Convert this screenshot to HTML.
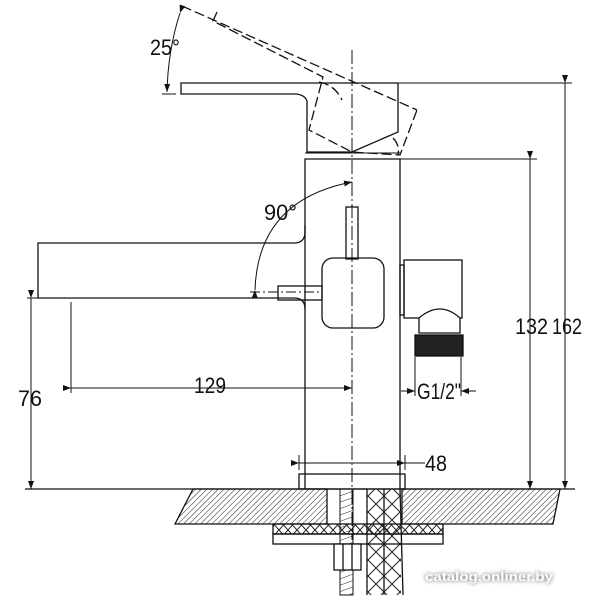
<!DOCTYPE html>
<html><head><meta charset="utf-8"><style>
html,body{margin:0;padding:0;background:#fff}
svg{display:block}
text{font-family:"Liberation Sans",sans-serif;fill:#111}
</style></head><body>
<svg width="600" height="600" viewBox="0 0 600 600" xmlns="http://www.w3.org/2000/svg">
<defs>
<pattern id="h" width="4" height="4" patternUnits="userSpaceOnUse" patternTransform="rotate(45)">
<line x1="0" y1="0" x2="0" y2="4" stroke="#222" stroke-width="1"/></pattern>
<pattern id="x" width="9" height="10" patternUnits="userSpaceOnUse">
<path d="M0 0L9 10M9 0L0 10" stroke="#222" stroke-width="1" fill="none"/></pattern>
<pattern id="b" width="16" height="16" patternUnits="userSpaceOnUse">
<path d="M0 0L8 8L0 16M8 8L16 0M8 8L16 16" stroke="#222" stroke-width="1" fill="none"/></pattern>
<pattern id="r" width="13" height="6" patternUnits="userSpaceOnUse" patternTransform="rotate(-20)">
<line x1="0" y1="0" x2="13" y2="0" stroke="#222" stroke-width="1"/></pattern>
<marker id="a" markerWidth="8" markerHeight="6" refX="8" refY="3" orient="auto" markerUnits="userSpaceOnUse"><path d="M0 0L8 3L0 6z" fill="#111"/></marker>
</defs>
<g fill="none" stroke="#111" stroke-width="1.3">
<line x1="352" y1="50" x2="352" y2="540" stroke-dasharray="14,3,2,3" stroke-width="1"/>
<g stroke-dasharray="10,4">
<line x1="182" y1="6" x2="417" y2="110"/>
<polyline points="217,12 213,21 323,77 309,130 352,152 400,155 417,110"/>
<path d="M319 82 Q335 85 342 100"/>
<path d="M393 138 Q400 145 398 155"/>
</g>
<path d="M181 83H398V132L352 152H307V101Q305 95 296 94H181Z"/>
<line x1="398" y1="83" x2="572" y2="83" stroke-width="1"/>
<path d="M305 489V159H400V489"/>
<line x1="305" y1="153" x2="400" y2="153" stroke-width="1"/>
<line x1="400" y1="159" x2="537" y2="159" stroke-width="1"/>
<path d="M305 225V232Q305 243 294 243H38V298H294Q305 298 305 309"/>
<line x1="27" y1="298" x2="38" y2="298" stroke-width="1"/>
<rect x="278" y="286" width="44" height="14"/>
<line x1="250" y1="292" x2="322" y2="292" stroke-dasharray="10,3,2,3" stroke-width="1"/>
<rect x="346" y="207" width="12" height="52"/>
<rect x="322" y="258" width="62" height="70" rx="11"/>
<rect x="400" y="265" width="4" height="50"/>
<rect x="404" y="260" width="58" height="58"/>
<path d="M419 318V333H460V318Q440 300 419 318Z" fill="#fff"/>
<rect x="415" y="335" width="48" height="21" fill="#222"/>
<rect x="299" y="474" width="106" height="15"/>
<line x1="25" y1="489" x2="575" y2="489"/>
<path d="M193 489L175 524H327V489Z" fill="url(#h)"/>
<path d="M402 489V524H553L560 489Z" fill="url(#h)"/>
<rect x="273" y="524" width="170" height="10" fill="url(#x)"/>
<rect x="273" y="534" width="170" height="10"/>
<rect x="340" y="489" width="13" height="106" fill="url(#r)" stroke-width="1"/>
<rect x="334" y="544" width="27" height="26" fill="#fff"/>
<line x1="343" y1="544" x2="343" y2="570"/><line x1="352" y1="544" x2="352" y2="570"/>
<path d="M367 489V595M400 489L403 595M384 489V595" fill="none"/>
<rect x="367" y="489" width="34" height="106" fill="url(#b)" stroke="none"/>
</g>
<g fill="none" stroke="#111" stroke-width="1">
<path d="M180 13Q168 50 167 92" marker-start="url(#a)" marker-end="url(#a)"/>
<line x1="162" y1="94" x2="176" y2="94"/>
<path d="M255 290Q258 200 352 182" marker-start="url(#a)" marker-end="url(#a)"/>
<line x1="31" y1="298" x2="31" y2="489" marker-start="url(#a)" marker-end="url(#a)"/>
<line x1="71" y1="302" x2="71" y2="393"/>
<line x1="71" y1="388" x2="352" y2="388" marker-start="url(#a)" marker-end="url(#a)"/>
<line x1="299" y1="455" x2="299" y2="470"/><line x1="405" y1="455" x2="405" y2="470"/>
<line x1="299" y1="463" x2="405" y2="463" marker-start="url(#a)" marker-end="url(#a)"/>
<line x1="405" y1="463" x2="425" y2="463"/>
<line x1="415" y1="357" x2="415" y2="396"/><line x1="461" y1="357" x2="461" y2="396"/>
<line x1="401" y1="391" x2="415" y2="391" marker-end="url(#a)"/>
<line x1="476" y1="391" x2="461" y2="391" marker-end="url(#a)"/>
<line x1="530" y1="159" x2="530" y2="489" marker-start="url(#a)" marker-end="url(#a)"/>
<line x1="565" y1="83" x2="565" y2="489" marker-start="url(#a)" marker-end="url(#a)"/>
</g>
<g font-size="22">
<text x="150" y="55" textLength="30" lengthAdjust="spacingAndGlyphs">25°</text>
<text x="264" y="220" textLength="33" lengthAdjust="spacingAndGlyphs">90°</text>
<text x="18" y="406" textLength="24" lengthAdjust="spacingAndGlyphs">76</text>
<text x="194" y="393" textLength="32" lengthAdjust="spacingAndGlyphs">129</text>
<text x="425" y="471" textLength="22" lengthAdjust="spacingAndGlyphs">48</text>
<text x="417" y="399" textLength="44" lengthAdjust="spacingAndGlyphs">G1/2"</text>
<text x="515" y="334" textLength="33" lengthAdjust="spacingAndGlyphs">132</text>
<text x="552" y="334" textLength="30" lengthAdjust="spacingAndGlyphs">162</text>
</g>
<text x="425" y="581" font-size="13" font-weight="bold" style="fill:#fff;filter:drop-shadow(0 0 2px #555)" textLength="128" lengthAdjust="spacingAndGlyphs">catalog.onliner.by</text>
</svg>
</body></html>
